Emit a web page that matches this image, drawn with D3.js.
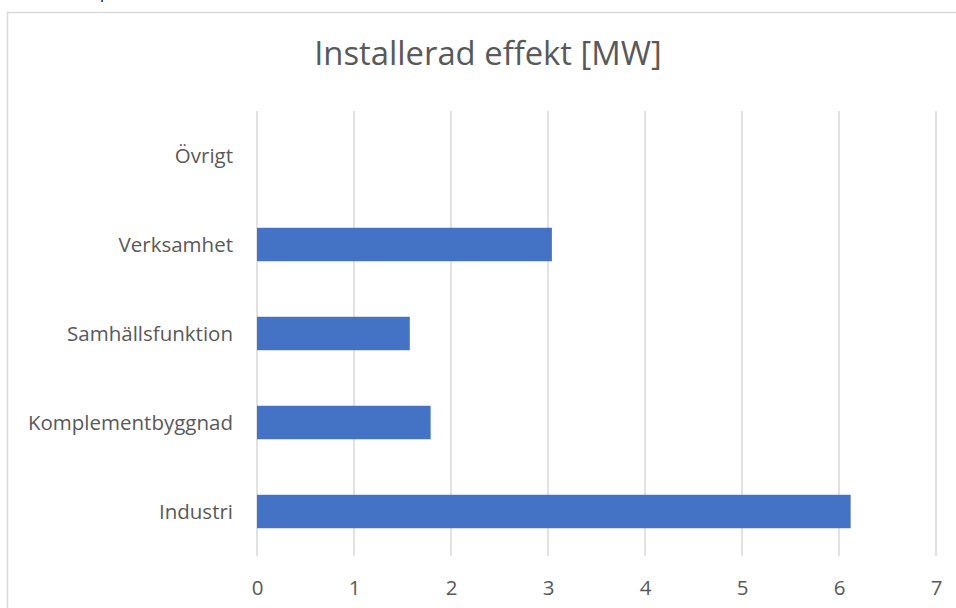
<!DOCTYPE html>
<html>
<head>
<meta charset="utf-8">
<script src="https://cdn.jsdelivr.net/npm/d3@7"></script>
<style>
  html, body { margin: 0; padding: 0; background: #fff; }
  svg { display: block; }
  text { font-family: "Open Sans", sans-serif; }
</style>
</head>
<body>
<svg id="chart" width="956" height="608"></svg>
<script>
const title = "Installerad effekt [MW]";
const categories = ["Övrigt", "Verksamhet", "Samhällsfunktion", "Komplementbyggnad", "Industri"];
const values = [0, 3.04, 1.575, 1.79, 6.12];
const xTicks = [0, 1, 2, 3, 4, 5, 6, 7];

const svg = d3.select("#chart");
const W = 956, H = 608;
const margin = { left: 257, right: 20, top: 111, bottom: 52 };
const plotRight = 936;

// chart frame (extends past the viewport on right/bottom)
svg.append("rect")
  .attr("x", 7.5).attr("y", 12.5)
  .attr("width", 1000).attr("height", 700)
  .attr("fill", "#fff")
  .attr("stroke", "#d9d9d9").attr("stroke-width", 1.5);

// clipped fragment of text above the chart
svg.append("text")
  .attr("x", 100).attr("y", -2)
  .attr("font-size", 16).attr("fill", "#000")
  .text("p");

const x = d3.scaleLinear().domain([0, 7]).range([margin.left, plotRight]);
const y = d3.scaleBand().domain(categories).range([margin.top, H - margin.bottom])
  .paddingInner(0.624).paddingOuter(0.312);

// gridlines
svg.append("g").selectAll("line").data(xTicks).join("line")
  .attr("x1", d => x(d)).attr("x2", d => x(d))
  .attr("y1", margin.top).attr("y2", H - margin.bottom)
  .attr("stroke", "#d9d9d9").attr("stroke-width", 1.5);

// bars
svg.append("g").selectAll("rect").data(categories).join("rect")
  .attr("x", x(0))
  .attr("y", d => y(d))
  .attr("width", (d, i) => x(values[i]) - x(0))
  .attr("height", y.bandwidth())
  .attr("fill", "#4472C4");

// x axis tick labels
const xAxis = d3.axisBottom(x).tickValues(xTicks).tickSize(0).tickPadding(0).tickFormat(d3.format("d"));
const gx = svg.append("g").attr("transform", `translate(0,${H - margin.bottom})`).call(xAxis);
gx.select(".domain").remove();
gx.selectAll("text")
  .attr("dy", null).attr("y", 39)
  .attr("font-family", "Open Sans, sans-serif")
  .attr("font-size", 20.5).attr("fill", "#595959");

// y axis category labels
const yAxis = d3.axisLeft(y).tickSize(0).tickPadding(24);
const gy = svg.append("g").attr("transform", `translate(${margin.left},0)`).call(yAxis);
gy.select(".domain").remove();
gy.selectAll("text")
  .attr("dy", "0.35em")
  .attr("font-family", "Open Sans, sans-serif")
  .attr("font-size", 20.5).attr("fill", "#595959");

// title
svg.append("text")
  .attr("x", 488).attr("y", 65)
  .attr("text-anchor", "middle")
  .attr("font-size", 32.8).attr("fill", "#595959")
  .text(title);
</script>
</body>
</html>
